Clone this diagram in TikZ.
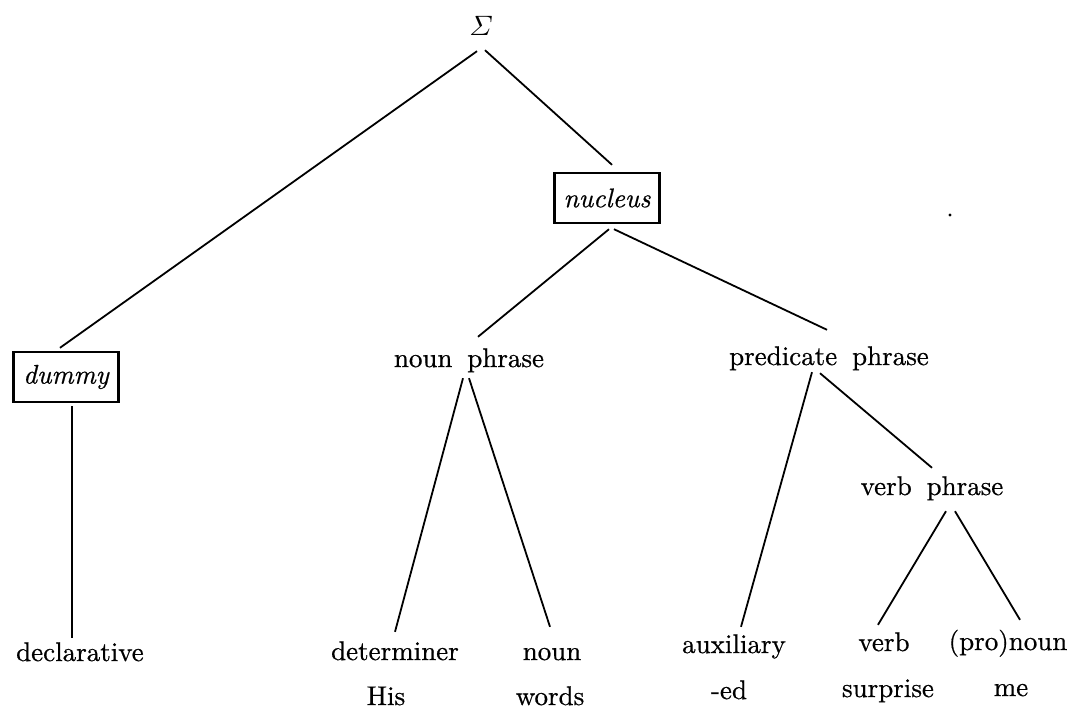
\documentclass[tikz,border=0pt]{standalone}
\usepackage{amsmath}
\usepackage[no-math]{fontspec}
\setmainfont{lmroman10-regular.otf}[ItalicFont=lmroman10-italic.otf, FakeBold=0.6]
\usepackage{graphicx}
\usetikzlibrary{calc}
\begin{document}
\begin{tikzpicture}[x=1pt,y=-1pt,
  lbl/.style={font=\fontsize{27}{32}\selectfont, inner sep=0pt, text height=19pt, text depth=6pt, anchor=base},
  boxed/.style={draw, line width=2.4pt, minimum width=105pt, minimum height=50pt, inner sep=0pt, font=\fontsize{27}{32}\selectfont\itshape},
  edge/.style={line width=1.8pt}]
\useasboundingbox (0,0) rectangle (1082,710);
% nodes
\node[lbl, font=\normalsize] (S) at (481,35) {\scalebox{2.8}{$\varSigma$}};
\node[boxed] (nuc) at (607,198) {nucleus};
\node[boxed] (dum) at (66,377) {dummy};
\node[lbl] (np) at (469,367) {noun\hspace{0.55em}phrase};
\node[lbl] (pp) at (829,365) {predicate\hspace{0.55em}phrase};
\node[lbl] (vp) at (932,495) {verb\hspace{0.55em}phrase};
\node[lbl] (decl) at (80,661) {declarative};
\node[lbl] (det) at (395,660) {determiner};
\node[lbl] (noun) at (552,660) {noun};
\node[lbl] (aux) at (734,653) {auxiliary};
\node[lbl] (verb) at (884,651) {verb};
\node[lbl] (pron) at (1008,650) {(pro)noun};
\node[lbl] (his) at (386,705) {His};
\node[lbl] (words) at (550,705) {words};
\node[lbl] (ed) at (729,699) {-ed};
\node[lbl] (surp) at (888,697) {surprise};
\node[lbl] (me) at (1011,696) {me};
% edges
\draw[edge] ($(S.south)+(-4,10)$) -- ($(dum.north)+(-6,-3)$);
\draw[edge] ($(S.south)+(4,9)$) -- ($(nuc.north)+(5,-7)$);
\draw[edge] ($(dum.south)+(6,3)$) -- ($(decl.north)+(-8,-4)$);
\draw[edge] ($(nuc.south)+(2,5)$) -- ($(np.north)+(9,-11)$);
\draw[edge] ($(nuc.south)+(7,5)$) -- ($(pp.north)+(-2,-16)$);
\draw[edge] ($(np.south)+(-6,5)$) -- ($(det.north)+(0,-9)$);
\draw[edge] ($(np.south)+(0,5)$) -- ($(noun.north)+(-2,-14)$);
\draw[edge] ($(pp.south)+(-17,1)$) -- ($(aux.north)+(7,-7)$);
\draw[edge] ($(pp.south)+(-9,2)$) -- ($(vp.north)+(0,-8)$);
\draw[edge] ($(vp.south)+(14,10)$) -- ($(verb.north)+(-6,-7)$);
\draw[edge] ($(vp.south)+(23,10)$) -- ($(pron.north)+(12,-11)$);
% stray dot
\fill (950,215) circle (1.6);
\end{tikzpicture}
\end{document}
